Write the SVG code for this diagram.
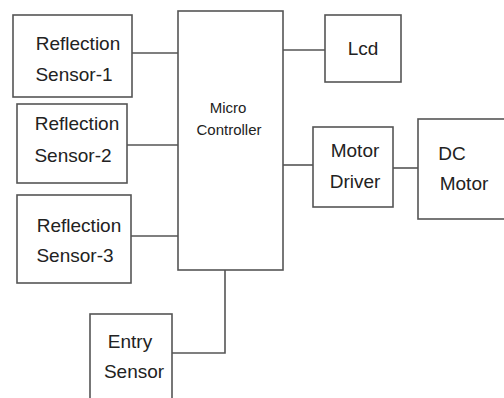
<svg xmlns="http://www.w3.org/2000/svg" width="504" height="398" viewBox="0 0 504 398">
<style>
.box{fill:#fff;stroke:#555;stroke-width:1.6}
.ln{fill:none;stroke:#555;stroke-width:1.6}
text{font-family:"Liberation Sans",Arial,sans-serif;font-size:19px;fill:#222;text-anchor:middle}
.sm{font-size:15px}
</style>
<rect width="504" height="398" fill="#fff"/>
<g id="connectors">
<line class="ln" x1="132" y1="53" x2="178" y2="53"/>
<line class="ln" x1="127" y1="145" x2="178" y2="145"/>
<line class="ln" x1="131" y1="236" x2="178" y2="236"/>
<polyline class="ln" points="225,270 225,353 172,353"/>
<line class="ln" x1="283" y1="50" x2="325" y2="50"/>
<line class="ln" x1="283" y1="165" x2="313" y2="165"/>
<line class="ln" x1="393" y1="168" x2="418" y2="168"/>
</g>
<g id="rs1"><rect class="box" x="13" y="15" width="119" height="82"/><text x="78" y="50">Reflection</text><text x="74" y="81">Sensor-1</text></g>
<g id="rs2"><rect class="box" x="17" y="104" width="110" height="79"/><text x="77" y="130">Reflection</text><text x="73" y="162">Sensor-2</text></g>
<g id="rs3"><rect class="box" x="17" y="195" width="114" height="88"/><text x="79" y="232">Reflection</text><text x="75" y="262">Sensor-3</text></g>
<g id="mc"><rect class="box" x="178" y="11" width="105" height="259"/><text class="sm" x="228" y="113">Micro</text><text class="sm" x="229" y="135">Controller</text></g>
<g id="lcd"><rect class="box" x="325" y="15" width="76" height="67"/><text x="363" y="55">Lcd</text></g>
<g id="md"><rect class="box" x="313" y="127" width="80" height="80"/><text x="355" y="157">Motor</text><text x="355" y="188">Driver</text></g>
<g id="dc"><rect class="box" x="418" y="119" width="92" height="100"/><text x="452" y="160">DC</text><text x="464" y="190">Motor</text></g>
<g id="entry"><rect class="box" x="90" y="314" width="82" height="90"/><text x="130" y="348">Entry</text><text x="134" y="378">Sensor</text></g>
</svg>
